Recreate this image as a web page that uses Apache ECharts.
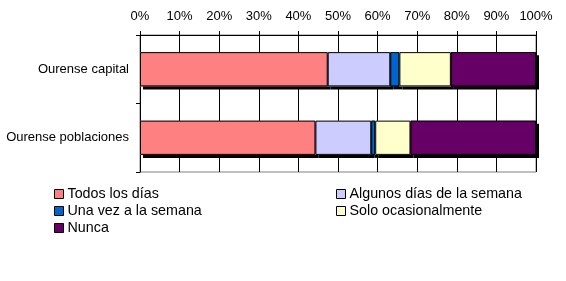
<!DOCTYPE html>
<html><head><meta charset="utf-8">
<script src="https://cdn.jsdelivr.net/npm/echarts@6/dist/echarts.min.js"></script>
<style>html,body{margin:0;padding:0;background:#fff}#c{width:566px;height:281px}</style>
</head><body><div id="c"></div>
<script>
const categories = ['Ourense capital', 'Ourense poblaciones'];
const seriesNames = ['Todos los días', 'Algunos días de la semana', 'Una vez a la semana', 'Solo ocasionalmente', 'Nunca'];
const todos = [47.4, 44.3];
const algunos = [15.8, 14.1];
const unaVez = [2.3, 1.0];
const solo = [13.0, 8.9];
const nunca = [21.5, 31.7];
const colors = ['#FF8080', '#CCCCFF', '#0066CC', '#FFFFCC', '#660066'];
const values = [todos, algunos, unaVez, solo, nunca];

const font = 'Liberation Sans, Arial, sans-serif';
const chart = echarts.init(document.getElementById('c'), null, {renderer: 'canvas'});
const legendBase = {
  orient: 'vertical', icon: 'rect', itemWidth: 9, itemHeight: 9, itemGap: 1,
  textStyle: {fontFamily: font, fontSize: 14.3, color: '#000', lineHeight: 16, padding: [0, 0, 0, -1]},
  itemStyle: {borderColor: '#000', borderWidth: 1},
  padding: 0, selectedMode: false
};
const shadowSeries = seriesNames.map((n, i) => ({
  name: 'shadow_' + i, type: 'bar', stack: 'shadow', data: values[i], barWidth: '50%', barGap: '-100%',
  silent: true,
  itemStyle: {color: colors[i], borderWidth: 0,
    shadowColor: '#000', shadowOffsetX: 3, shadowOffsetY: 3, shadowBlur: 0}
}));
const mainSeries = seriesNames.map((n, i) => ({
  name: n, type: 'bar', stack: 'total', data: values[i], barWidth: '50%', barGap: '-100%',
  itemStyle: {color: colors[i], borderColor: '#000', borderWidth: 1}
}));
chart.setOption({
  animation: false,
  grid: {left: 140, right: 30, top: 35, bottom: 109, show: true, borderColor: '#808080', borderWidth: 1, containLabel: false},
  xAxis: {
    type: 'value', position: 'top', min: 0, max: 100, interval: 10,
    axisLabel: {formatter: '{value}%', fontFamily: font, fontSize: 13, color: '#000', margin: 12},
    axisLine: {show: true, lineStyle: {color: '#000', width: 1}},
    axisTick: {show: true, length: 4, lineStyle: {color: '#000'}},
    splitLine: {show: true, lineStyle: {color: '#000', width: 1}}
  },
  yAxis: {
    type: 'category', data: categories, inverse: true,
    axisLabel: {fontFamily: font, fontSize: 13, color: '#000', margin: 11},
    axisLine: {show: true, lineStyle: {color: '#000', width: 1}},
    axisTick: {show: true, length: 4, lineStyle: {color: '#000'}},
    splitLine: {show: false}
  },
  legend: [
    Object.assign({}, legendBase, {left: 54, top: 186, data: [seriesNames[0], seriesNames[2], seriesNames[4]]}),
    Object.assign({}, legendBase, {left: 336, top: 186, data: [seriesNames[1], seriesNames[3]]})
  ],
  series: shadowSeries.concat(mainSeries)
});
</script></body></html>
